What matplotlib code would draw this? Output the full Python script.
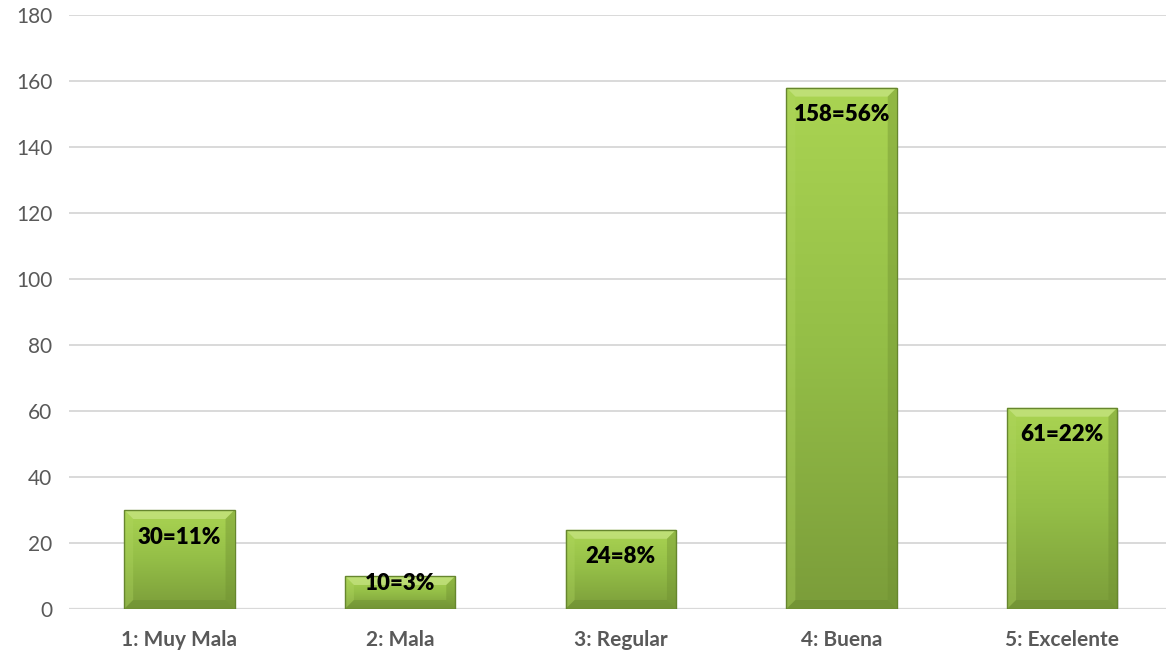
import numpy as np
import matplotlib
matplotlib.use("Agg")
import matplotlib.pyplot as plt
from matplotlib.patches import Rectangle, Polygon
from matplotlib.colors import LinearSegmentedColormap

categories = ["1: Muy Mala", "2: Mala", "3: Regular", "4: Buena", "5: Excelente"]
counts = [30, 10, 24, 158, 61]
labels = ["30=11%", "10=3%", "24=8%", "158=56%", "61=22%"]
yticks = [0, 20, 40, 60, 80, 100, 120, 140, 160, 180]

plt.rcParams["font.family"] = ["Lato", "DejaVu Sans"]

W, H = 1166, 654
fig = plt.figure(figsize=(W / 100, H / 100), dpi=100)
ax = fig.add_axes([69 / W, 45 / H, (W - 69) / W, (609 - 15) / H])

ax.set_xlim(-0.5, 4.47)
ax.set_ylim(0, 180)
ax.set_yticks(yticks)
ax.yaxis.grid(True, color="#d9d9d9", lw=1.4)
ax.set_axisbelow(True)
for s in ax.spines.values():
    s.set_visible(False)
ax.axhline(0, color="#d9d9d9", lw=1.6, zorder=1)
ax.tick_params(length=0, labelsize=15, colors="#595959")
ax.tick_params(axis="y", pad=12)
ax.tick_params(axis="x", pad=15)
ax.set_xticks(range(len(categories)))
ax.set_xticklabels(categories, fontweight="bold")

cmap = LinearSegmentedColormap.from_list("g", ["#7b9d3a", "#94be47", "#aad452"])
grad = np.linspace(0, 1, 256).reshape(-1, 1)
bw = 0.5
px_per_unit = 594 / 180
# bevel size in data units (~9 px)
bx = 9 / 220.75
by = 9 / px_per_unit

for i, (v, lab) in enumerate(zip(counts, labels)):
    x0, x1 = i - bw / 2, i + bw / 2
    # shadow
    ax.add_patch(Rectangle((x0 + 0.005, -1.0), bw, v, color="#d0d0d0",
                           alpha=0.5, zorder=2, lw=0))
    rect = Rectangle((x0, 0), bw, v, facecolor="none", edgecolor="#66862e",
                     lw=1.0, zorder=5)
    ax.add_patch(rect)
    im = ax.imshow(grad, extent=(x0, x1, 0, v), origin="lower", cmap=cmap,
                   aspect="auto", zorder=3)
    im.set_clip_path(rect)
    b = min(by, v * 0.3)
    # top bevel (light)
    ax.add_patch(Polygon([(x0, v), (x1, v), (x1 - bx, v - b), (x0 + bx, v - b)],
                         closed=True, facecolor="#c8e585", alpha=0.7,
                         lw=0, zorder=4))
    # left bevel
    ax.add_patch(Polygon([(x0, v), (x0 + bx, v - b), (x0 + bx, b), (x0, 0)],
                         closed=True, facecolor="#b0d660", alpha=0.35,
                         lw=0, zorder=4))
    # right bevel (dark)
    ax.add_patch(Polygon([(x1, v), (x1 - bx, v - b), (x1 - bx, b), (x1, 0)],
                         closed=True, facecolor="#6e8f30", alpha=0.4,
                         lw=0, zorder=4))
    # bottom bevel (dark)
    ax.add_patch(Polygon([(x0, 0), (x1, 0), (x1 - bx, b), (x0 + bx, b)],
                         closed=True, facecolor="#66862e", alpha=0.35,
                         lw=0, zorder=4))
    # label sits inside the bar end; short bars push it up
    off_px = min(27, v * px_per_unit - 25)
    ax.annotate(lab, (i, v), xytext=(0, -off_px * 0.72),
                textcoords="offset points",
                ha="center", va="center", fontsize=16, fontweight="heavy",
                color="black", zorder=6)

fig.savefig("out.png", dpi=100)
